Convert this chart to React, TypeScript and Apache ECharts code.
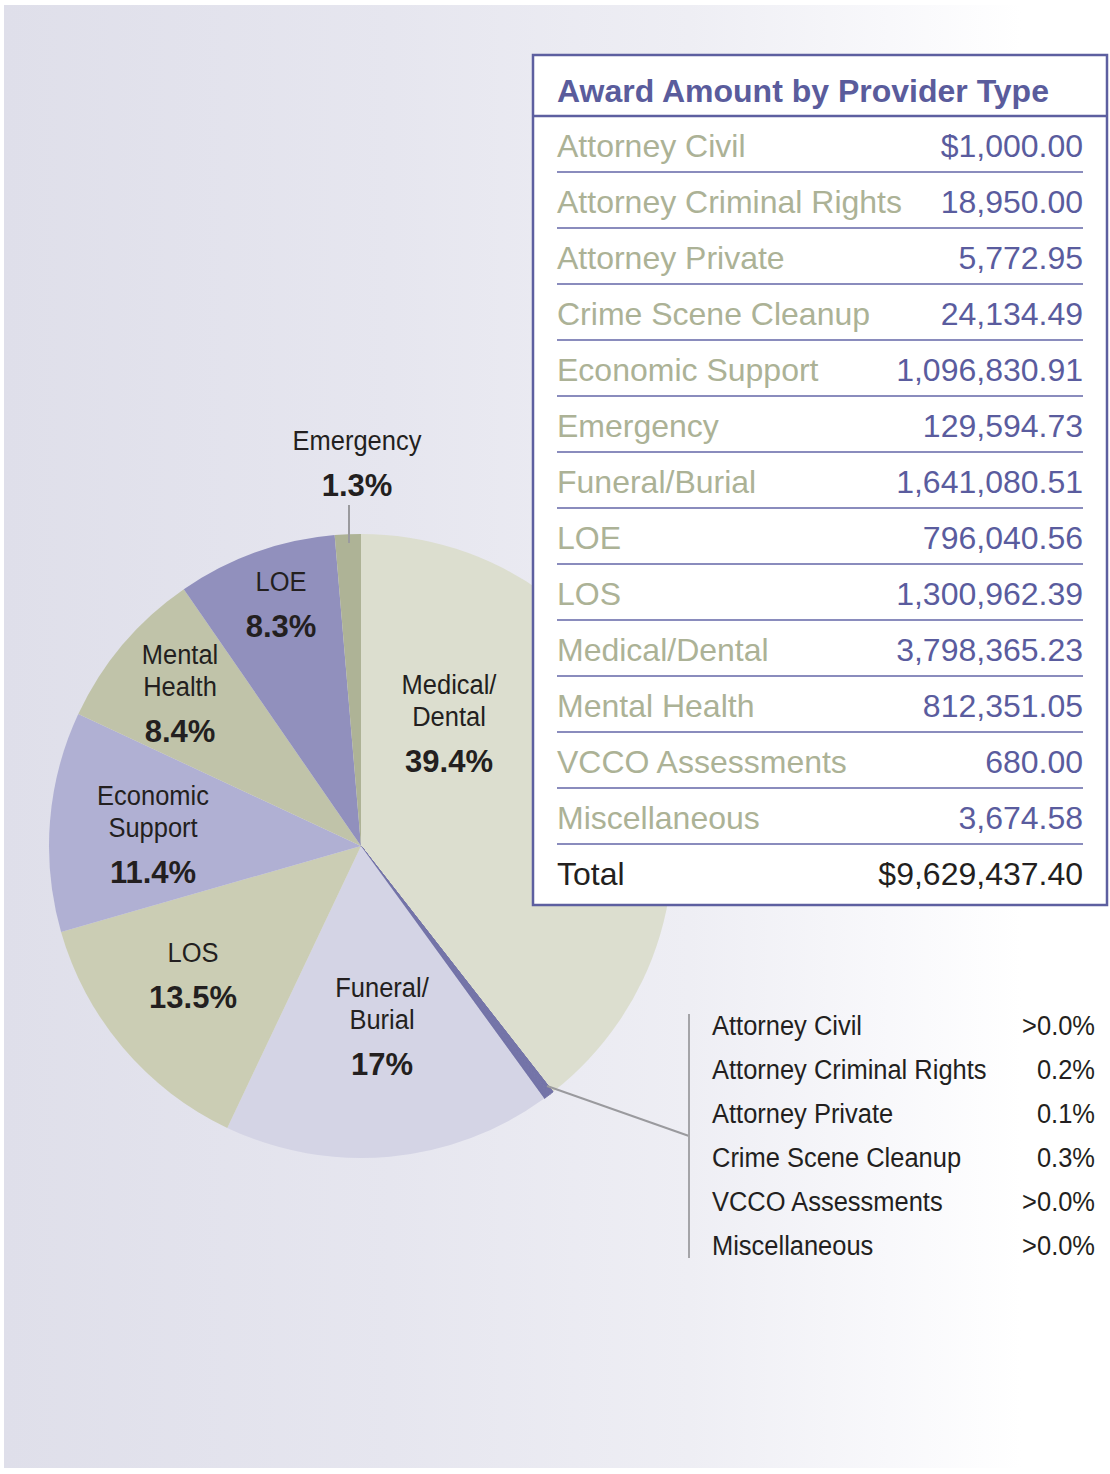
import React, { useEffect, useRef } from "react";
import * as echarts from "echarts";

// ---------- data ----------
const providerTypes = [
  "Attorney Civil",
  "Attorney Criminal Rights",
  "Attorney Private",
  "Crime Scene Cleanup",
  "Economic Support",
  "Emergency",
  "Funeral/Burial",
  "LOE",
  "LOS",
  "Medical/Dental",
  "Mental Health",
  "VCCO Assessments",
  "Miscellaneous",
];
const awardAmounts = [
  1000.0, 18950.0, 5772.95, 24134.49, 1096830.91, 129594.73, 1641080.51,
  796040.56, 1300962.39, 3798365.23, 812351.05, 680.0, 3674.58,
];
const totalLabel = "Total";
const totalAmount = "$9,629,437.40";
const tableTitle = "Award Amount by Provider Type";

// clockwise order of slices starting at 12 o'clock
const pieOrder = [
  "Medical/Dental",
  "Attorney Civil",
  "Attorney Criminal Rights",
  "Attorney Private",
  "Crime Scene Cleanup",
  "VCCO Assessments",
  "Miscellaneous",
  "Funeral/Burial",
  "LOS",
  "Economic Support",
  "Mental Health",
  "LOE",
  "Emergency",
];

const smallTypes = [
  "Attorney Civil",
  "Attorney Criminal Rights",
  "Attorney Private",
  "Crime Scene Cleanup",
  "VCCO Assessments",
  "Miscellaneous",
];
const smallPercents = [">0.0%", "0.2%", "0.1%", "0.3%", ">0.0%", ">0.0%"];

// slice labels: name lines and percent text
const sliceLabelNames = [
  ["Emergency"],
  ["LOE"],
  ["Mental", "Health"],
  ["Medical/", "Dental"],
  ["Economic", "Support"],
  ["LOS"],
  ["Funeral/", "Burial"],
];
const sliceLabelPercents = ["1.3%", "8.3%", "8.4%", "39.4%", "11.4%", "13.5%", "17%"];

// ---------- styles / layout ----------
const sliceColors: Record<string, string> = {
  "Medical/Dental": "#dcdecf",
  "Funeral/Burial": "#d4d4e5",
  LOS: "#cbcdb4",
  "Economic Support": "#b0b0d3",
  "Mental Health": "#c0c3a9",
  LOE: "#9190bd",
  Emergency: "#aeb396",
};
const smallColor = "#7474a8";
const sliceLabelPos = [
  [357, 441],
  [281, 582],
  [180, 655],
  [449, 685],
  [153, 796],
  [193, 953],
  [382, 988],
];

const FONT = "'Liberation Sans', Arial, Helvetica, sans-serif";
const TEXT = "#231f20";
const COND = 0.91;

function fmt(v: number, dollar: boolean) {
  const s = v.toLocaleString("en-US", { minimumFractionDigits: 2, maximumFractionDigits: 2 });
  return dollar ? "$" + s : s;
}

export default function App() {
  const ref = useRef<HTMLDivElement>(null);
  useEffect(() => {
    document.body.style.margin = "0";
    if (!ref.current) return;
    const chart = echarts.init(ref.current, undefined, { renderer: "svg" });

    const pieData = pieOrder.map((name) => {
      const idx = providerTypes.indexOf(name);
      const small = !sliceColors[name];
      const color = sliceColors[name] || smallColor;
      return {
        name,
        value: awardAmounts[idx],
        itemStyle: small
          ? { color, borderColor: color, borderWidth: 1 }
          : { color, borderWidth: 0 },
      };
    });

    const g: any[] = [];
    // background
    g.push({
      type: "rect",
      z: -100,
      silent: true,
      shape: { x: 4, y: 5, width: 1106, height: 1463 },
      style: {
        fill: new echarts.graphic.LinearGradient(0, 0, 1, 0, [
          { offset: 0, color: "#dfdfea" },
          { offset: 0.35, color: "#e6e6ef" },
          { offset: 0.62, color: "#eeeef4" },
          { offset: 0.8, color: "#f8f8fb" },
          { offset: 0.92, color: "#ffffff" },
          { offset: 1, color: "#ffffff" },
        ]),
      },
    });

    // slice labels
    sliceLabelNames.forEach((lines, i) => {
      const [cx, cy] = sliceLabelPos[i];
      lines.forEach((ln, j) => {
        g.push({
          type: "text",
          z: 50,
          x: cx,
          y: cy + j * 32,
          scaleX: COND,
          style: {
            text: ln,
            x: 0,
            y: 0,
            fill: TEXT,
            font: `28px ${FONT}`,
            align: "center",
            verticalAlign: "middle",
          },
        });
      });
      g.push({
        type: "text",
        z: 50,
        x: cx,
        y: cy + (lines.length - 1) * 32 + 44,
        style: {
          text: sliceLabelPercents[i],
          x: 0,
          y: 0,
          fill: TEXT,
          font: `bold 31px ${FONT}`,
          align: "center",
          verticalAlign: "middle",
        },
      });
    });

    // emergency leader
    g.push({
      type: "line",
      z: 50,
      shape: { x1: 349, y1: 505, x2: 349, y2: 543 },
      style: { stroke: "#9a9a9e", lineWidth: 2 },
    });
    // small slices leader + bracket
    g.push({
      type: "line",
      z: 50,
      shape: { x1: 547, y1: 1086, x2: 689, y2: 1136 },
      style: { stroke: "#9a9a9e", lineWidth: 2 },
    });
    g.push({
      type: "line",
      z: 50,
      shape: { x1: 689, y1: 1014, x2: 689, y2: 1258 },
      style: { stroke: "#a4a4a8", lineWidth: 2 },
    });
    smallTypes.forEach((name, i) => {
      const y = 1026 + i * 44;
      g.push({
        type: "text",
        z: 50,
        x: 712,
        y,
        scaleX: COND,
        style: { text: name, x: 0, y: 0, fill: TEXT, font: `28px ${FONT}`, align: "left", verticalAlign: "middle" },
      });
      g.push({
        type: "text",
        z: 50,
        x: 1095,
        y,
        scaleX: COND,
        style: { text: smallPercents[i], x: 0, y: 0, fill: TEXT, font: `28px ${FONT}`, align: "right", verticalAlign: "middle" },
      });
    });

    // table
    const TX = 533, TY = 55, TW = 574, TH = 850;
    const border = "#5d5fa0";
    g.push({
      type: "rect",
      z: 100,
      shape: { x: TX, y: TY, width: TW, height: TH },
      style: { fill: "#ffffff", stroke: border, lineWidth: 2.5 },
    });
    g.push({
      type: "line",
      z: 101,
      shape: { x1: TX, y1: 116, x2: TX + TW, y2: 116 },
      style: { stroke: border, lineWidth: 2.5 },
    });
    g.push({
      type: "text",
      z: 101,
      style: {
        text: tableTitle,
        x: 557,
        y: 91,
        fill: "#5a5c9c",
        font: `bold 32px ${FONT}`,
        align: "left",
        verticalAlign: "middle",
      },
    });
    providerTypes.forEach((name, i) => {
      const y = 146 + i * 56;
      g.push({
        type: "text",
        z: 101,
        style: { text: name, x: 557, y, fill: "#acb296", font: `32px ${FONT}`, align: "left", verticalAlign: "middle" },
      });
      g.push({
        type: "text",
        z: 101,
        style: {
          text: fmt(awardAmounts[i], i === 0),
          x: 1083,
          y,
          fill: "#5a5c9e",
          font: `32px ${FONT}`,
          align: "right",
          verticalAlign: "middle",
        },
      });
      g.push({
        type: "line",
        z: 101,
        shape: { x1: 557, y1: y + 26, x2: 1083, y2: y + 26 },
        style: { stroke: "#8a8cbd", lineWidth: 2 },
      });
    });
    const totY = 146 + providerTypes.length * 56;
    g.push({
      type: "text",
      z: 101,
      style: { text: totalLabel, x: 557, y: totY, fill: TEXT, font: `32px ${FONT}`, align: "left", verticalAlign: "middle" },
    });
    g.push({
      type: "text",
      z: 101,
      style: { text: totalAmount, x: 1083, y: totY, fill: TEXT, font: `32px ${FONT}`, align: "right", verticalAlign: "middle" },
    });

    chart.setOption({
      animation: false,
      backgroundColor: "#ffffff",
      series: [
        {
          type: "pie",
          z: 2,
          center: [361, 846],
          radius: 312,
          startAngle: 90,
          clockwise: true,
          silent: true,
          label: { show: false },
          labelLine: { show: false },
          emphasis: { disabled: true },
          data: pieData,
        },
      ],
      graphic: { elements: g },
    });
    return () => chart.dispose();
  }, []);
  return <div ref={ref} style={{ width: 1110, height: 1474 }} />;
}
